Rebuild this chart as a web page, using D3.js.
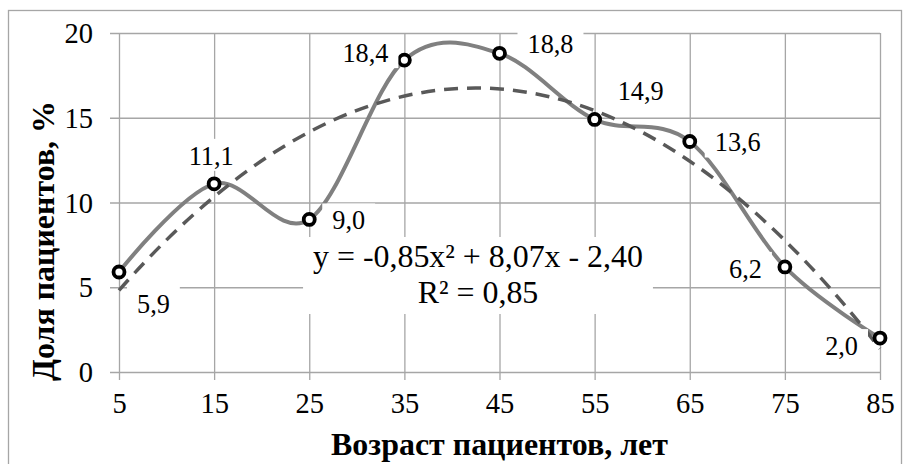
<!DOCTYPE html>
<html><head><meta charset="utf-8">
<script src="https://cdn.jsdelivr.net/npm/d3@7"></script>
<style>
html,body{margin:0;padding:0;background:#fff;}
svg{display:block;}
</style></head>
<body>
<svg id="chart" width="908" height="464" font-family="Liberation Serif"></svg>
<script>
// ---- data ----
const ages = [5, 15, 25, 35, 45, 55, 65, 75, 85];
const shares = [5.9, 11.1, 9.0, 18.4, 18.8, 14.9, 13.6, 6.2, 2.0];
const yTicks = [0, 5, 10, 15, 20];
const xTicks = ages;
const trendCoef = [-0.85, 8.07, -2.40]; // a*x^2 + b*x + c, x = point index 1..n
const equationLines = ["y = -0,85x² + 8,07x - 2,40", "R² = 0,85"];
const xTitle = "Возраст пациентов, лет";
const yTitle = "Доля пациентов, %";

// ---- label placement (style) ----
const labelAnchor = ["start","middle","start","end","start","start","start","end","end"];
const labelDx = [18, -3, 23, -16, 28, 23, 25, -23, -22];
const labelDy = [41, -19, 10, 2, 0, -19, 10, 11, 17];

const FONT = "Liberation Serif";
const svg = d3.select("#chart");
const M = {left:119, right:880, top:33, bottom:372};
const x = d3.scaleLinear().domain([5,85]).range([M.left, M.right]);
const y = d3.scaleLinear().domain([0,20]).range([M.bottom, M.top]);
const fmt = v => d3.format(".1f")(v).replace(".", ",");

// font size that gives a text a wanted width
function fitSize(str, base, width, bold){
  const t = svg.append("text").attr("font-family",FONT).attr("font-size",base)
    .attr("font-weight",bold?"bold":"normal").text(str);
  const w = t.node().getComputedTextLength();
  t.remove();
  return w > 0 ? base*width/w : base;
}
const tickFS = Math.min(30, Math.max(24, fitSize("15", 28, 28.5)));
const labelFS = Math.min(30, Math.max(23, fitSize("18,4", 27, 46)));
const eqFS = Math.min(33, Math.max(26, fitSize(equationLines[0], 30, 330)));
const titleFS = Math.min(32, Math.max(25, fitSize(xTitle, 28, 337, true)));

// outer border
svg.append("rect").attr("x",8.5).attr("y",10.5).attr("width",893).attr("height",460)
  .attr("fill","#fff").attr("stroke","#a6a6a6").attr("stroke-width",1.3);

const gridColor = "#a6a6a6";
// horizontal grid + ticks
const yAxis = d3.axisLeft(y).tickValues(yTicks).tickSize(M.right - M.left + 9).tickFormat(d=>d);
const gy = svg.append("g").attr("transform",`translate(${M.right},0)`).call(yAxis);
gy.attr("font-family",FONT).attr("font-size",tickFS);
gy.select(".domain").remove();
gy.selectAll(".tick line").attr("stroke",gridColor).attr("stroke-width",1.3);
gy.selectAll(".tick text").attr("x",-(M.right-M.left)-26).attr("dy","0.34em")
  .attr("font-family",FONT).attr("font-size",tickFS).attr("fill","#000");

// vertical grid + ticks
const xAxis = d3.axisBottom(x).tickValues(xTicks).tickSize(M.bottom - M.top + 8).tickFormat(d=>d);
const gx = svg.append("g").attr("transform",`translate(0,${M.top})`).call(xAxis);
gx.attr("font-family",FONT).attr("font-size",tickFS);
gx.select(".domain").remove();
gx.selectAll(".tick line").attr("stroke",gridColor).attr("stroke-width",1.3);
gx.selectAll(".tick text").attr("y",M.bottom - M.top + 21).attr("dy","0.71em")
  .attr("font-family",FONT).attr("font-size",tickFS).attr("fill","#000");

// main smoothed line
const line = d3.line().x((d,i)=>x(ages[i])).y(d=>y(d)).curve(d3.curveCatmullRom.alpha(0));
svg.append("path").datum(shares).attr("d",line).attr("fill","none")
  .attr("stroke","#808080").attr("stroke-width",4).attr("stroke-linejoin","round");

// polynomial trendline drawn as exact quadratic Bezier
const [ta, tb, tc] = trendCoef;
const f = t => ta*t*t + tb*t + tc;
const fp = t => 2*ta*t + tb;
const n = ages.length;
const idxToAge = t => ages[0] + (t-1)*(ages[1]-ages[0]);
const t0 = 1, t1 = n, tm = (t0+t1)/2;
const p = d3.path();
p.moveTo(x(idxToAge(t0)), y(f(t0)));
p.quadraticCurveTo(x(idxToAge(tm)), y(f(t0) + fp(t0)*(t1-t0)/2), x(idxToAge(t1)), y(f(t1)));
svg.append("path").attr("d",p.toString()).attr("fill","none")
  .attr("stroke","#595959").attr("stroke-width",3.5).attr("stroke-dasharray","14,9");

// markers
svg.append("g").selectAll("circle").data(shares).join("circle")
  .attr("cx",(d,i)=>x(ages[i])).attr("cy",d=>y(d)).attr("r",5.5)
  .attr("fill","#fff").attr("stroke","#000").attr("stroke-width",3.8);

// data labels with white boxes
const lg = svg.append("g");
shares.forEach((v,i)=>{
  const g = lg.append("g");
  const t = g.append("text").attr("x",x(ages[i])+labelDx[i]).attr("y",y(v)+labelDy[i])
    .attr("text-anchor",labelAnchor[i]).attr("font-family",FONT).attr("font-size",labelFS)
    .attr("fill","#000").text(fmt(v));
  const b = t.node().getBBox();
  g.insert("rect","text").attr("x",b.x-10).attr("y",b.y-3).attr("width",b.width+20).attr("height",b.height+3)
    .attr("fill","#fff");
});

// equation box
const eg = svg.append("g");
const eqX = 478, eqY = [267, 303];
equationLines.forEach((s,i)=>{
  eg.append("text").attr("x",eqX).attr("y",eqY[i]).attr("text-anchor","middle")
    .attr("font-family",FONT).attr("font-size",eqFS).attr("fill","#000").text(s);
});
const eb = eg.node().getBBox();
eg.insert("rect","text").attr("x",eb.x-10).attr("y",eb.y-2).attr("width",eb.width+20).attr("height",eb.height+6)
  .attr("fill","#fff");

// axis titles
svg.append("text").attr("x",(M.left+M.right)/2).attr("y",455).attr("text-anchor","middle")
  .attr("font-family",FONT).attr("font-size",titleFS).attr("font-weight","bold").attr("fill","#000").text(xTitle);
svg.append("text").attr("transform","translate(54,241) rotate(-90)").attr("text-anchor","middle")
  .attr("font-family",FONT).attr("font-size",titleFS).attr("font-weight","bold").attr("fill","#000").text(yTitle);
</script>
</body></html>
